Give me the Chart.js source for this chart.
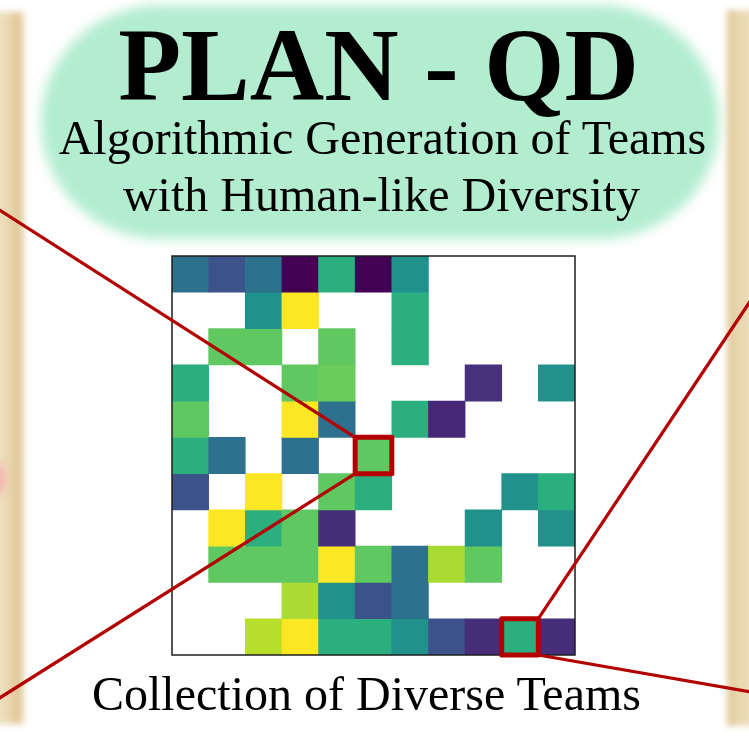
<!DOCTYPE html>
<html>
<head>
<meta charset="utf-8">
<title>PLAN - QD</title>
<script src="https://cdn.jsdelivr.net/npm/chart.js@4.4.0/dist/chart.umd.min.js"></script>
<style>
  html, body { margin: 0; padding: 0; background: #fff; overflow: hidden; }
  #page { position: relative; width: 749px; height: 749px; overflow: hidden; background: #fff; }
  .deco { position: absolute; }
  #stripL { left: -12px; top: 12px; width: 36px; height: 712px; filter: blur(3px);
    background: linear-gradient(to right, #f2e4c8 0%, #ecdbb7 50%, #dfc695 84%, #eadab6 100%); }
  #stripR { left: 727px; top: 10px; width: 40px; height: 716px; filter: blur(3px);
    background: linear-gradient(to right, #dfc695 0%, #e9d6ae 25%, #f2e4c8 100%); }
  #blob { left: 41px; top: 5px; width: 678px; height: 234px; background: #b3edd0;
    border-radius: 120px / 116px; filter: blur(6px); }
  #pink { left: -20px; top: 462px; width: 26px; height: 34px; border-radius: 50%;
    background: #f6b3b0; filter: blur(4px); }
  #chartBox { position: absolute; left: 0; top: 0; width: 749px; height: 749px; }
  .txt { position: absolute; width: 749px; text-align: center; color: #000;
    font-family: "Liberation Serif", serif; line-height: 1; white-space: nowrap; }
</style>
</head>
<body>
<div id="page">
  <div class="deco" id="stripL"></div>
  <div class="deco" id="stripR"></div>
  <div class="deco" id="pink"></div>
  <div class="deco" id="blob"></div>
  <div id="chartBox"><canvas id="heatmap"></canvas></div>
  <div class="txt" style="left:4px; top:14px; font-size:103px; font-weight:bold;">PLAN - QD</div>
  <div class="txt" style="left:8px; top:114px; font-size:48px;">Algorithmic Generation of Teams</div>
  <div class="txt" style="left:7px; top:171px; font-size:48px;">with Human-like Diversity</div>
  <div class="txt" style="left:-8px; top:670px; font-size:48px;">Collection of Diverse Teams</div>
</div>
<script>
// 11 x 11 archive of teams, value = colour on the viridis scale (null = empty cell)
var columns = ["0", "1", "2", "3", "4", "5", "6", "7", "8", "9", "10"];
var row0 = [0.37, 0.25, 0.37, 0.0, 0.63, 0.0, 0.5, null, null, null, null];
var row1 = [null, null, 0.5, 1.0, null, null, 0.63, null, null, null, null];
var row2 = [null, 0.75, 0.75, null, 0.75, null, 0.63, null, null, null, null];
var row3 = [0.63, null, null, 0.75, 0.77, null, null, null, 0.14, null, 0.5];
var row4 = [0.75, null, null, 1.0, 0.37, null, 0.63, 0.11, null, null, null];
var row5 = [0.63, 0.37, null, 0.37, null, 0.75, null, null, null, null, null];
var row6 = [0.25, null, 1.0, null, 0.75, 0.63, null, null, null, 0.5, 0.63];
var row7 = [null, 1.0, 0.63, 0.75, 0.13, null, null, null, 0.5, null, 0.5];
var row8 = [null, 0.75, 0.75, 0.75, 1.0, 0.75, 0.37, 0.87, 0.75, null, null];
var row9 = [null, null, null, 0.87, 0.5, 0.25, 0.37, null, null, null, null];
var row10 = [null, null, 0.89, 1.0, 0.63, 0.63, 0.5, 0.25, 0.13, 0.63, 0.13];
var rows = [row0, row1, row2, row3, row4, row5, row6, row7, row8, row9, row10];

// highlighted cells [row, col]
var highlightCells = [[5, 5], [10, 9]];

// viridis stops at 0, 0.1, ... 1
var viridisStops = ["#440154", "#482475", "#414487", "#355f8d", "#2a788e", "#21918c",
  "#22a884", "#44bf70", "#7ad151", "#bddf26", "#fde725"];

function hexToRgb(h) {
  return [parseInt(h.slice(1, 3), 16), parseInt(h.slice(3, 5), 16), parseInt(h.slice(5, 7), 16)];
}

function viridis(v) {
  var p = Math.max(0, Math.min(1, v)) * 10;
  var i = Math.min(9, Math.floor(p));
  var f = p - i;
  var a = hexToRgb(viridisStops[i]), b = hexToRgb(viridisStops[i + 1]);
  var c = a.map(function (n, k) { return Math.round(n + (b[k] - n) * f); });
  return "rgb(" + c.join(",") + ")";
}

var datasets = rows.map(function (vals, r) {
  return {
    label: "row " + r,
    data: vals.map(function (v) { return v == null ? null : [r, r + 1]; }),
    backgroundColor: vals.map(function (v) { return v == null ? "rgba(0,0,0,0)" : viridis(v); }),
    borderWidth: 0,
    barPercentage: 1,
    categoryPercentage: 1,
    grouped: false,
  };
});

// frame around the map, red boxes and the callout lines to the side cards
var callouts = {
  id: "callouts",
  afterDatasetsDraw: function (chart, args, opts) {
    var ctx = chart.ctx;
    var area = chart.chartArea;
    var xs = chart.scales.x, ys = chart.scales.y;
    var cw = xs.getPixelForValue(1) - xs.getPixelForValue(0);

    ctx.save();
    ctx.strokeStyle = "#1e1e1e";
    ctx.lineWidth = 1.5;
    ctx.strokeRect(area.left, area.top, area.right - area.left, area.bottom - area.top);

    var boxes = highlightCells.map(function (c) {
      var cx = xs.getPixelForValue(c[1]);
      return {
        l: cx - cw / 2, r: cx + cw / 2,
        t: ys.getPixelForValue(c[0]), b: ys.getPixelForValue(c[0] + 1),
      };
    });

    ctx.strokeStyle = "#b30000";
    ctx.lineCap = "round";
    ctx.lineJoin = "round";
    ctx.lineWidth = 3.2;
    opts.lines.forEach(function (ln) {
      var b = boxes[ln.box];
      var px = ln.corner[1] == "l" ? b.l : b.r;
      var py = ln.corner[0] == "t" ? b.t : b.b;
      ctx.beginPath();
      ctx.moveTo(px, py);
      ctx.lineTo(ln.to[0], ln.to[1]);
      ctx.stroke();
    });

    ctx.lineWidth = 5;
    boxes.forEach(function (b) {
      ctx.strokeRect(b.l, b.t, b.r - b.l, b.b - b.t);
    });
    ctx.restore();
  },
};

var ctx = document.getElementById("heatmap").getContext("2d");
var myChart = new Chart(ctx, {
  type: "bar",
  data: { labels: columns, datasets: datasets },
  options: {
    responsive: true,
    maintainAspectRatio: false,
    animation: false,
    layout: { padding: { left: 172, right: 174, top: 256, bottom: 94 } },
    scales: {
      x: { display: false, offset: true },
      y: { display: false, min: 0, max: 11, reverse: true },
    },
    plugins: {
      legend: { display: false },
      tooltip: { enabled: false },
      title: { display: false },
      callouts: {
        lines: [
          { box: 0, corner: "tl", to: [-2, 209] },
          { box: 0, corner: "bl", to: [-2, 699] },
          { box: 1, corner: "tr", to: [751, 300] },
          { box: 1, corner: "br", to: [751, 692] },
        ],
      },
    },
  },
  plugins: [callouts],
});
</script>
</body>
</html>
